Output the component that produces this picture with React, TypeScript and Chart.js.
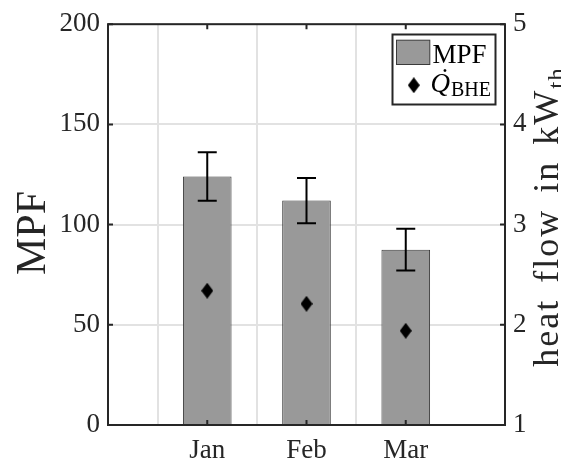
import React, { useEffect, useRef } from 'react';
import { Chart, registerables } from 'chart.js';

Chart.register(...registerables);

// ---- data ----
const categories = ['Jan', 'Feb', 'Mar'];
const mpfValues = [124, 112, 87.5];
const mpfErrors = [12.1, 11.3, 10.4];
const heatFlow = [2.34, 2.21, 1.94];
const leftTicks = [0, 50, 100, 150, 200];
const rightTicks = [1, 2, 3, 4, 5];
const leftTitle = 'MPF';
const rightTitle = 'heat flow in kW';
const rightTitleSub = 'th';
const legendBar = 'MPF';
const legendPoint = 'Q';
const legendPointSub = 'BHE';

const FONT = "'Liberation Serif', 'Times New Roman', Times, 'DejaVu Serif', serif";
const INK = '#262626';
const BAR_FILL = '#999999';
const BAR_EDGE = '#3a3a3a';
const GRID = '#e2e2e2';

function makeDiamond(w: number, h: number): HTMLCanvasElement {
  const c = document.createElement('canvas');
  c.width = w;
  c.height = h;
  const g = c.getContext('2d')!;
  g.fillStyle = '#000';
  g.beginPath();
  g.moveTo(w / 2, 0);
  g.lineTo(w, h / 2);
  g.lineTo(w / 2, h);
  g.lineTo(0, h / 2);
  g.closePath();
  g.fill();
  return c;
}

export default function App() {
  const ref = useRef<HTMLCanvasElement>(null);

  useEffect(() => {
    const diamond = makeDiamond(12, 16);
    const labels = ['', ...categories, ''];

    const overlay = {
      id: 'overlay',
      afterDatasetsDraw(chart: any) {
        const ctx = chart.ctx;
        const xs = chart.scales.x;
        const ys = chart.scales.y;
        ctx.save();
        ctx.strokeStyle = '#000';
        ctx.lineWidth = 2;
        mpfValues.forEach((v, i) => {
          const x = xs.getPixelForValue(i + 1);
          const yt = ys.getPixelForValue(v + mpfErrors[i]);
          const yb = ys.getPixelForValue(v - mpfErrors[i]);
          const cap = 9.5;
          ctx.beginPath();
          ctx.moveTo(x, yt);
          ctx.lineTo(x, yb);
          ctx.moveTo(x - cap, yt);
          ctx.lineTo(x + cap, yt);
          ctx.moveTo(x - cap, yb);
          ctx.lineTo(x + cap, yb);
          ctx.stroke();
        });
        ctx.restore();
      },
      afterDraw(chart: any) {
        const ctx = chart.ctx;
        const ca = chart.chartArea;
        const xs = chart.scales.x;
        const ys = chart.scales.y;
        ctx.save();
        // frame
        ctx.strokeStyle = INK;
        ctx.lineWidth = 2;
        ctx.strokeRect(ca.left, ca.top, ca.right - ca.left, ca.bottom - ca.top);
        // inward ticks
        const tl = 5;
        ctx.beginPath();
        leftTicks.forEach((v) => {
          const y = ys.getPixelForValue(v);
          ctx.moveTo(ca.left, y);
          ctx.lineTo(ca.left + tl, y);
          ctx.moveTo(ca.right, y);
          ctx.lineTo(ca.right - tl, y);
        });
        categories.forEach((_, i) => {
          const x = xs.getPixelForValue(i + 1);
          ctx.moveTo(x, ca.bottom);
          ctx.lineTo(x, ca.bottom - tl);
          ctx.moveTo(x, ca.top);
          ctx.lineTo(x, ca.top + tl);
        });
        ctx.stroke();

        // legend
        const bw = 103;
        const bh = 70;
        const bx = ca.right - 9.5 - bw;
        const by = ca.top + 10.3;
        ctx.fillStyle = '#fff';
        ctx.fillRect(bx, by, bw, bh);
        ctx.strokeStyle = INK;
        ctx.lineWidth = 2;
        ctx.strokeRect(bx, by, bw, bh);
        ctx.fillStyle = BAR_FILL;
        ctx.fillRect(bx + 4, by + 5.7, 33.3, 24.3);
        ctx.strokeStyle = BAR_EDGE;
        ctx.lineWidth = 1;
        ctx.strokeRect(bx + 4, by + 5.7, 33.3, 24.3);
        ctx.fillStyle = '#000';
        ctx.textAlign = 'left';
        ctx.textBaseline = 'alphabetic';
        ctx.font = `27px ${FONT}`;
        ctx.fillText(legendBar, bx + 40, by + 28);
        ctx.drawImage(diamond, bx + 21.3 - 6, by + 50.7 - 8);
        ctx.font = `italic 27px ${FONT}`;
        const qx = bx + 38;
        const qw = ctx.measureText(legendPoint).width;
        ctx.fillText(legendPoint, qx, by + 57);
        ctx.textAlign = 'center';
        ctx.fillText('\u02D9', qx + qw / 2 + 3, by + 52);
        ctx.textAlign = 'left';
        ctx.font = `20px ${FONT}`;
        ctx.fillText(legendPointSub, qx + qw + 1, by + 61.7);

        // left axis title
        ctx.save();
        ctx.fillStyle = INK;
        ctx.translate(45, 233);
        ctx.rotate(-Math.PI / 2);
        ctx.font = `42px ${FONT}`;
        ctx.textAlign = 'center';
        ctx.textBaseline = 'alphabetic';
        ctx.fillText(leftTitle, 0, 0);
        ctx.restore();

        // right axis title with subscript
        ctx.save();
        ctx.fillStyle = INK;
        ctx.translate(558, 217);
        ctx.rotate(-Math.PI / 2);
        ctx.textAlign = 'left';
        ctx.textBaseline = 'alphabetic';
        const c2: any = ctx;
        ctx.font = `36px ${FONT}`;
        c2.letterSpacing = '2px';
        c2.wordSpacing = '5px';
        const w1 = ctx.measureText(rightTitle).width;
        ctx.font = `25px ${FONT}`;
        c2.letterSpacing = '1px';
        const w2 = ctx.measureText(rightTitleSub).width;
        const start = -(w1 + w2) / 2;
        ctx.font = `36px ${FONT}`;
        c2.letterSpacing = '2px';
        ctx.fillText(rightTitle, start, 0);
        ctx.font = `25px ${FONT}`;
        c2.letterSpacing = '1px';
        ctx.fillText(rightTitleSub, start + w1, 7);
        ctx.restore();

        ctx.restore();
      },
    };

    const chart = new Chart(ref.current!, {
      type: 'bar',
      data: {
        labels,
        datasets: [
          {
            type: 'line',
            label: 'Q_BHE',
            data: [null, ...heatFlow, null],
            yAxisID: 'y1',
            showLine: false,
            pointStyle: diamond as any,
            pointRadius: 8,
            order: 0,
          } as any,
          {
            type: 'bar',
            label: 'MPF',
            data: [null, ...mpfValues, null],
            yAxisID: 'y',
            backgroundColor: BAR_FILL,
            borderColor: BAR_EDGE,
            borderWidth: 1,
            barPercentage: 0.49,
            categoryPercentage: 1,
            order: 1,
          } as any,
        ],
      },
      options: {
        responsive: false,
        devicePixelRatio: 1,
        animation: false,
        font: { family: FONT },
        layout: { padding: { top: 19, left: 0, right: 0, bottom: 0 } },
        plugins: { legend: { display: false }, tooltip: { enabled: false } },
        scales: {
          x: {
            type: 'category',
            offset: false,
            grid: {
              color: (c: any) => (c.index === 0 || c.index === labels.length - 1 ? 'rgba(0,0,0,0)' : GRID),
              lineWidth: 2,
              drawTicks: false,
            },
            border: { display: false },
            ticks: { font: { family: FONT, size: 27 }, color: INK, padding: 10, maxRotation: 0, autoSkip: false },
            afterFit: (s: any) => {
              s.height = 37;
            },
          },
          y: {
            position: 'left',
            min: 0,
            max: 200,
            afterBuildTicks: (s: any) => {
              s.ticks = leftTicks.map((v) => ({ value: v }));
            },
            grid: { color: GRID, lineWidth: 2, drawTicks: false },
            border: { display: false },
            ticks: { font: { family: FONT, size: 27 }, color: INK, padding: 8 },
            afterFit: (s: any) => {
              s.width = 108;
            },
          },
          y1: {
            position: 'right',
            min: 1,
            max: 5,
            afterBuildTicks: (s: any) => {
              s.ticks = rightTicks.map((v) => ({ value: v }));
            },
            grid: { display: false, drawTicks: false },
            border: { display: false },
            ticks: { font: { family: FONT, size: 27 }, color: INK, padding: 8 },
            afterFit: (s: any) => {
              s.width = 56;
            },
          },
        },
      },
      plugins: [overlay],
    } as any);

    return () => {
      chart.destroy();
    };
  }, []);

  return (
    <div style={{ position: 'absolute', left: 0, top: 0, width: 561, height: 462 }}>
      <canvas ref={ref} width={561} height={462} style={{ display: 'block' }} />
    </div>
  );
}
